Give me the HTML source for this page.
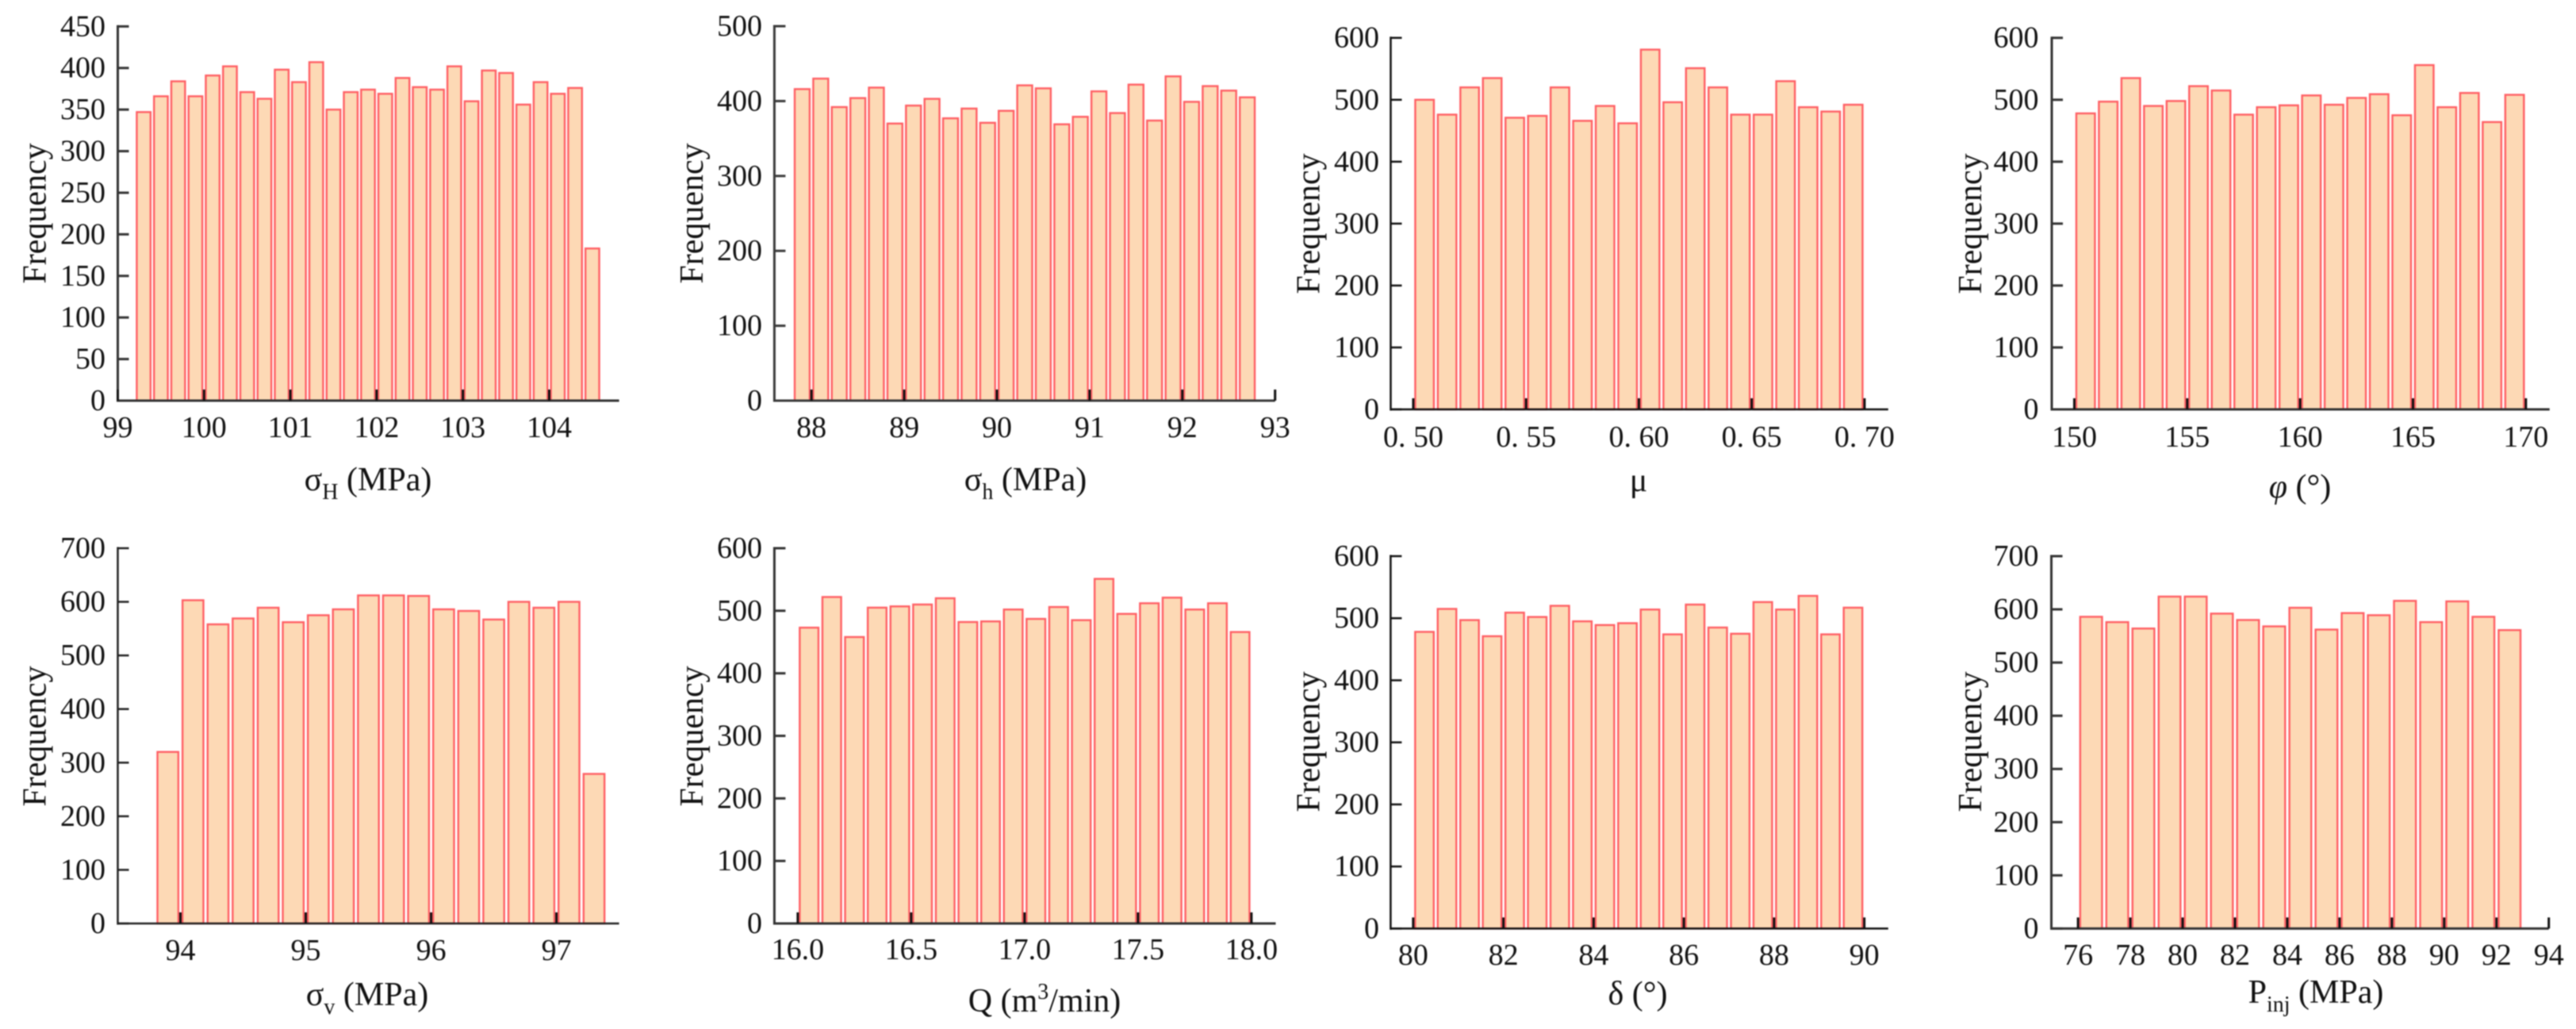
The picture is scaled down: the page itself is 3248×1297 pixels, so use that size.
<!DOCTYPE html>
<html lang="en">
<head>
<meta charset="utf-8">
<title>Parameter frequency histograms</title>
<style>
  html, body { margin: 0; padding: 0; background: #fff; }
  #figure { display: block; width: 3248px; height: 1297px; filter: blur(0.8px); }
  text { font-family: "Liberation Serif", "DejaVu Serif", serif; fill: #111111; }
  .tick-label { font-size: 38px; }
  .axis-title { font-size: 42px; }
  .sub { font-size: 28px; }
</style>
</head>
<body>
<svg id="figure" xmlns="http://www.w3.org/2000/svg" width="3248" height="1297" viewBox="0 0 3248 1297">
  <rect x="0" y="0" width="3248" height="1297" fill="#ffffff"/>

  <g id="panel-sigma-h-max">
    <text class="axis-title" transform="translate(57.7 269) rotate(-90)" text-anchor="middle">Frequency</text>
    <text class="axis-title" x="464" y="618" text-anchor="middle">σ<tspan class="sub" dy="11">H</tspan><tspan dy="-11"> (MPa)</tspan></text>
  </g>
  <g id="panel-sigma-h-min">
    <text class="axis-title" transform="translate(886 269) rotate(-90)" text-anchor="middle">Frequency</text>
    <text class="axis-title" x="1293" y="618" text-anchor="middle">σ<tspan class="sub" dy="11">h</tspan><tspan dy="-11"> (MPa)</tspan></text>
  </g>
  <g id="panel-mu">
    <text class="axis-title" transform="translate(1663.6 282) rotate(-90)" text-anchor="middle">Frequency</text>
    <text class="axis-title" x="2066" y="619" text-anchor="middle">μ</text>
  </g>
  <g id="panel-phi">
    <text class="axis-title" transform="translate(2497.8 282) rotate(-90)" text-anchor="middle">Frequency</text>
    <text class="axis-title" x="2900" y="627" text-anchor="middle"><tspan font-style="italic">φ</tspan> (°)</text>
  </g>
  <g id="panel-sigma-v">
    <text class="axis-title" transform="translate(57.7 928) rotate(-90)" text-anchor="middle">Frequency</text>
    <text class="axis-title" x="463" y="1267" text-anchor="middle">σ<tspan class="sub" dy="11">v</tspan><tspan dy="-11"> (MPa)</tspan></text>
  </g>
  <g id="panel-q">
    <text class="axis-title" transform="translate(886 928) rotate(-90)" text-anchor="middle">Frequency</text>
    <text class="axis-title" x="1317" y="1275" text-anchor="middle">Q (m<tspan class="sub" dy="-16">3</tspan><tspan dy="16">/min)</tspan></text>
  </g>
  <g id="panel-delta">
    <text class="axis-title" transform="translate(1663.6 935) rotate(-90)" text-anchor="middle">Frequency</text>
    <text class="axis-title" x="2065" y="1266" text-anchor="middle">δ (°)</text>
  </g>
  <g id="panel-pinj">
    <text class="axis-title" transform="translate(2497.8 935) rotate(-90)" text-anchor="middle">Frequency</text>
    <text class="axis-title" x="2920" y="1264" text-anchor="middle">P<tspan class="sub" dy="11">inj</tspan><tspan dy="-11"> (MPa)</tspan></text>
  </g>
</svg>

<script>
// ---------- data ----------
const sigmaHCounts = [347, 366, 384, 366, 391, 402, 371, 363, 398, 383, 407, 350, 371, 374, 369, 388, 377, 374, 402, 360, 397, 394, 356, 383, 369, 376, 183];
const sigmaHBinStart = 99.2;
const sigmaHBinWidth = 0.2;
const sigmaHXTicks = [99, 100, 101, 102, 103, 104];
const sigmaHXLabels = ['99', '100', '101', '102', '103', '104'];
const sigmaHYTicks = [0, 50, 100, 150, 200, 250, 300, 350, 400, 450];

const sigmaLCounts = [416, 430, 392, 404, 418, 370, 394, 403, 377, 390, 371, 387, 421, 417, 369, 379, 413, 384, 422, 374, 433, 399, 420, 414, 405];
const sigmaLBinStart = 87.8;
const sigmaLBinWidth = 0.2;
const sigmaLXTicks = [88, 89, 90, 91, 92, 93];
const sigmaLXLabels = ['88', '89', '90', '91', '92', '93'];
const sigmaLYTicks = [0, 100, 200, 300, 400, 500];

const muCounts = [500, 476, 520, 535, 471, 474, 520, 466, 490, 462, 581, 496, 551, 520, 476, 476, 530, 488, 481, 492];
const muBinStart = 0.5;
const muBinWidth = 0.01;
const muXTicks = [0.5, 0.55, 0.6, 0.65, 0.7];
const muXLabels = ['0. 50', '0. 55', '0. 60', '0. 65', '0. 70'];
const muYTicks = [0, 100, 200, 300, 400, 500, 600];

const phiCounts = [478, 497, 535, 490, 498, 522, 515, 476, 488, 491, 507, 492, 503, 509, 475, 556, 488, 511, 464, 508];
const phiBinStart = 150;
const phiBinWidth = 1;
const phiXTicks = [150, 155, 160, 165, 170];
const phiXLabels = ['150', '155', '160', '165', '170'];
const phiYTicks = [0, 100, 200, 300, 400, 500, 600];

const sigmaVCounts = [320, 603, 558, 569, 589, 562, 575, 586, 612, 612, 611, 586, 583, 567, 600, 589, 600, 279];
const sigmaVBinStart = 93.8;
const sigmaVBinWidth = 0.2;
const sigmaVXTicks = [94, 95, 96, 97];
const sigmaVXLabels = ['94', '95', '96', '97'];
const sigmaVYTicks = [0, 100, 200, 300, 400, 500, 600, 700];

const flowCounts = [473, 522, 458, 505, 507, 510, 520, 482, 483, 502, 487, 506, 485, 551, 495, 512, 521, 502, 512, 466];
const flowBinStart = 16;
const flowBinWidth = 0.1;
const flowXTicks = [16, 16.5, 17, 17.5, 18];
const flowXLabels = ['16.0', '16.5', '17.0', '17.5', '18.0'];
const flowYTicks = [0, 100, 200, 300, 400, 500, 600];

const deltaCounts = [478, 515, 497, 471, 509, 502, 520, 495, 489, 492, 514, 474, 522, 485, 475, 526, 514, 536, 474, 517];
const deltaBinStart = 80;
const deltaBinWidth = 0.5;
const deltaXTicks = [80, 82, 84, 86, 88, 90];
const deltaXLabels = ['80', '82', '84', '86', '88', '90'];
const deltaYTicks = [0, 100, 200, 300, 400, 500, 600];

const pinjCounts = [586, 576, 564, 624, 624, 592, 580, 568, 603, 562, 593, 589, 616, 576, 615, 586, 561];
const pinjBinStart = 76;
const pinjBinWidth = 1;
const pinjXTicks = [76, 78, 80, 82, 84, 86, 88, 90, 92, 94];
const pinjXLabels = ['76', '78', '80', '82', '84', '86', '88', '90', '92', '94'];
const pinjYTicks = [0, 100, 200, 300, 400, 500, 600, 700];

// ---------- panel layout (pixels and axis domains) ----------
const SVG_NS = 'http://www.w3.org/2000/svg';

function node(tag, parent) {
  const el = document.createElementNS(SVG_NS, tag);
  parent.appendChild(el);
  return el;
}

function drawPanel(p) {
  const group = document.getElementById(p.id);
  const xPx = function (v) {
    return p.left + (v - p.xMin) / (p.xMax - p.xMin) * (p.right - p.left);
  };
  const yPx = function (v) {
    return p.bottom - (v / p.yMax) * (p.bottom - p.top);
  };

  // bars
  const stroke = 2.4;
  p.counts.forEach(function (count, i) {
    const a = xPx(p.binStart + i * p.binWidth);
    const b = xPx(p.binStart + (i + 1) * p.binWidth);
    const pitch = b - a;
    const inset = pitch * 0.045 + stroke / 2;
    const bar = node('rect', group);
    
    
    bar.setAttribute('x', a + inset);
    bar.setAttribute('y', yPx(count));
    bar.setAttribute('width', pitch - 2 * inset);
    bar.setAttribute('height', p.bottom - yPx(count));
    bar.setAttribute('fill', '#fdd9b5');
    bar.setAttribute('stroke', '#ff5f64');
    bar.setAttribute('stroke-width', stroke);
  });

  // y axis line
  const yAxis = node('line', group);
  
  
  yAxis.setAttribute('x1', p.left);
  yAxis.setAttribute('x2', p.left);
  yAxis.setAttribute('y1', p.top - 1.5);
  yAxis.setAttribute('y2', p.bottom + 1.5);
  yAxis.setAttribute('stroke', p.axisColor);
  yAxis.setAttribute('stroke-width', p.axisWidth);

  // x axis line
  const xAxis = node('line', group);
  
  
  xAxis.setAttribute('x1', p.left);
  xAxis.setAttribute('x2', p.right);
  xAxis.setAttribute('y1', p.bottom);
  xAxis.setAttribute('y2', p.bottom);
  xAxis.setAttribute('stroke', p.axisColor);
  xAxis.setAttribute('stroke-width', p.axisWidth);

  // y ticks and labels
  p.yTicks.forEach(function (v) {
    const tick = node('line', group);
    
    
    tick.setAttribute('x1', p.left);
    tick.setAttribute('x2', p.left + 14);
    tick.setAttribute('y1', yPx(v));
    tick.setAttribute('y2', yPx(v));
    tick.setAttribute('stroke', p.axisColor);
    tick.setAttribute('stroke-width', p.axisWidth);

    const label = node('text', group);
    
    
    label.setAttribute('class', 'tick-label');
    label.setAttribute('text-anchor', 'end');
    label.setAttribute('x', p.yLabelRight);
    label.setAttribute('y', yPx(v) + 12);
    label.textContent = String(v);
  });

  // x ticks and labels
  p.xTicks.forEach(function (v, i) {
    const tick = node('line', group);
    
    
    tick.setAttribute('x1', xPx(v));
    tick.setAttribute('x2', xPx(v));
    tick.setAttribute('y1', p.bottom);
    tick.setAttribute('y2', p.bottom - 14);
    tick.setAttribute('stroke', '#111111');
    tick.setAttribute('stroke-width', 3);

    const label = node('text', group);
    
    
    label.setAttribute('class', 'tick-label');
    label.setAttribute('text-anchor', 'middle');
    label.setAttribute('x', xPx(v));
    label.setAttribute('y', p.xLabelBaseline);
    label.textContent = p.xLabels[i];
  });
}

drawPanel({ id: 'panel-sigma-h-max', left: 148.5, right: 780.6, xMin: 99, xMax: 104.81, top: 33.3, bottom: 505, yMax: 450,
  counts: sigmaHCounts, binStart: sigmaHBinStart, binWidth: sigmaHBinWidth, xTicks: sigmaHXTicks, xLabels: sigmaHXLabels, yTicks: sigmaHYTicks,
  yLabelRight: 133, xLabelBaseline: 551, axisColor: '#333333', axisWidth: 3 });

drawPanel({ id: 'panel-sigma-h-min', left: 976.4, right: 1607.7, xMin: 87.6, xMax: 93, top: 33, bottom: 505, yMax: 500,
  counts: sigmaLCounts, binStart: sigmaLBinStart, binWidth: sigmaLBinWidth, xTicks: sigmaLXTicks, xLabels: sigmaLXLabels, yTicks: sigmaLYTicks,
  yLabelRight: 961, xLabelBaseline: 551, axisColor: '#3a3a3a', axisWidth: 3 });

drawPanel({ id: 'panel-mu', left: 1753.5, right: 2380.8, xMin: 0.49, xMax: 0.7105, top: 47.7, bottom: 516, yMax: 600,
  counts: muCounts, binStart: muBinStart, binWidth: muBinWidth, xTicks: muXTicks, xLabels: muXLabels, yTicks: muYTicks,
  yLabelRight: 1739, xLabelBaseline: 563, axisColor: '#111111', axisWidth: 2.5 });

drawPanel({ id: 'panel-phi', left: 2587, right: 3214.7, xMin: 149, xMax: 171.05, top: 47.7, bottom: 516, yMax: 600,
  counts: phiCounts, binStart: phiBinStart, binWidth: phiBinWidth, xTicks: phiXTicks, xLabels: phiXLabels, yTicks: phiYTicks,
  yLabelRight: 2570.5, xLabelBaseline: 563, axisColor: '#333333', axisWidth: 3 });

drawPanel({ id: 'panel-sigma-v', left: 148.5, right: 780.6, xMin: 93.5, xMax: 97.5, top: 691, bottom: 1164, yMax: 700,
  counts: sigmaVCounts, binStart: sigmaVBinStart, binWidth: sigmaVBinWidth, xTicks: sigmaVXTicks, xLabels: sigmaVXLabels, yTicks: sigmaVYTicks,
  yLabelRight: 133, xLabelBaseline: 1210, axisColor: '#222222', axisWidth: 2.5 });

drawPanel({ id: 'panel-q', left: 976.4, right: 1608.5, xMin: 15.897, xMax: 18.107, top: 691, bottom: 1164, yMax: 600,
  counts: flowCounts, binStart: flowBinStart, binWidth: flowBinWidth, xTicks: flowXTicks, xLabels: flowXLabels, yTicks: flowYTicks,
  yLabelRight: 961, xLabelBaseline: 1209, axisColor: '#333333', axisWidth: 3 });

drawPanel({ id: 'panel-delta', left: 1753.4, right: 2380.8, xMin: 79.5, xMax: 90.53, top: 701, bottom: 1170.4, yMax: 600,
  counts: deltaCounts, binStart: deltaBinStart, binWidth: deltaBinWidth, xTicks: deltaXTicks, xLabels: deltaXLabels, yTicks: deltaYTicks,
  yLabelRight: 1739, xLabelBaseline: 1216, axisColor: '#111111', axisWidth: 2.5 });

drawPanel({ id: 'panel-pinj', left: 2586.5, right: 3213.7, xMin: 74.98, xMax: 94, top: 701, bottom: 1170.4, yMax: 700,
  counts: pinjCounts, binStart: pinjBinStart, binWidth: pinjBinWidth, xTicks: pinjXTicks, xLabels: pinjXLabels, yTicks: pinjYTicks,
  yLabelRight: 2570.5, xLabelBaseline: 1216, axisColor: '#333333', axisWidth: 3 });
</script>
</body>
</html>
